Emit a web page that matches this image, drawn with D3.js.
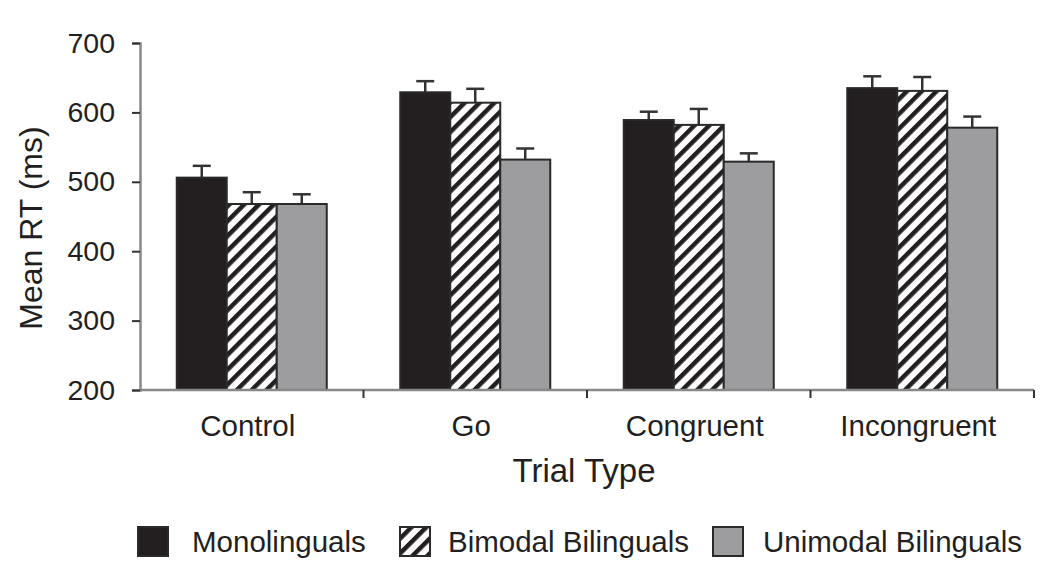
<!DOCTYPE html>
<html><head><meta charset="utf-8">
<script src="https://cdn.jsdelivr.net/npm/d3@7"></script>
<style>body{margin:0;background:#fff}svg{display:block}text{font-family:"Liberation Sans",Arial,sans-serif;fill:#231f20}</style>
</head><body><svg id="c" width="1050" height="576"></svg>
<script>
const categories = ["Control","Go","Congruent","Incongruent"];
const seriesNames = ["Monolinguals","Bimodal Bilinguals","Unimodal Bilinguals"];
const monolinguals = [506, 629, 589, 635];
const bimodal = [468, 614, 582, 631];
const unimodal = [468, 532, 529, 578];
const monoErr = [17, 16, 12, 17];
const bimodalErr = [17, 20, 23, 20];
const unimodalErr = [14, 16, 12, 16];
const yTicks = [200,300,400,500,600,700];

const values = [monolinguals, bimodal, unimodal];
const errs = [monoErr, bimodalErr, unimodalErr];
const fills = ["#231f20", "url(#hatch)", "#9d9d9f"];

const svg = d3.select("#c");
const defs = svg.append("defs");
const P = 10.5;
const pat = defs.append("pattern").attr("id","hatch").attr("patternUnits","userSpaceOnUse")
  .attr("width",P).attr("height",P).attr("patternTransform","rotate(45)");
pat.append("rect").attr("width",P).attr("height",P).attr("fill","#fff");
pat.append("rect").attr("x",0).attr("y",0).attr("width",4.5).attr("height",P).attr("fill","#231f20");

const x0 = d3.scaleBand().domain(categories).range([140,1034]).paddingInner(0).paddingOuter(0);
const x1 = d3.scaleBand().domain(d3.range(3)).range([0,150]);
const off = (x0.bandwidth()-150)/2;
const y = d3.scaleLinear().domain([200,700]).range([390,43]);

// bars
categories.forEach((c,ci)=>{
  values.forEach((vals,si)=>{
    const bx = x0(c)+off+x1(si);
    const w = x1.bandwidth();
    const v = vals[ci], e = errs[si][ci];
    const cx = bx + w/2;
    svg.append("line").attr("x1",cx).attr("x2",cx).attr("y1",y(v)).attr("y2",y(v+e)).attr("stroke","#333").attr("stroke-width",2.5);
    svg.append("line").attr("x1",cx-9).attr("x2",cx+9).attr("y1",y(v+e)).attr("y2",y(v+e)).attr("stroke","#333").attr("stroke-width",2.5);
    svg.append("rect").attr("x",bx).attr("y",y(v)).attr("width",w).attr("height",y(200)-y(v))
      .attr("fill",fills[si]).attr("stroke","#2a2a2a").attr("stroke-width",2);
  });
});

// y axis
const yAxis = d3.axisLeft(y).tickValues(yTicks).tickSize(8).tickPadding(17).tickFormat(d3.format("d"));
const gy = svg.append("g").attr("transform","translate(140,0)").call(yAxis);
gy.select(".domain").attr("stroke","#888").attr("stroke-width",2.5);
gy.selectAll(".tick line").attr("stroke","#333").attr("stroke-width",2);
gy.selectAll(".tick text").style("font-size","28.5px").attr("fill","#231f20").style("font-family","Liberation Sans, Arial, sans-serif");

// x axis
const gx = svg.append("g").attr("transform","translate(0,390)");
gx.append("line").attr("x1",140).attr("x2",1034).attr("y1",0).attr("y2",0).attr("stroke","#888").attr("stroke-width",2.5);
const bounds = categories.map(c=>x0(c)).concat([x0.range()[1]]).slice(1);
gx.selectAll("line.t").data(bounds).enter().append("line").attr("class","t")
  .attr("x1",d=>d).attr("x2",d=>d).attr("y1",0).attr("y2",8).attr("stroke","#333").attr("stroke-width",2);
gx.selectAll("text").data(categories).enter().append("text")
  .attr("x",d=>x0(d)+x0.bandwidth()/2-4).attr("y",46).attr("text-anchor","middle")
  .style("font-size","29.5px").text(d=>d);

// axis titles
svg.append("text").attr("x",584).attr("y",482).attr("text-anchor","middle").style("font-size","33px").text("Trial Type");
svg.append("text").attr("transform","translate(42,228) rotate(-90)").attr("text-anchor","middle").style("font-size","32px").text("Mean RT (ms)");

// legend
const legX = [138, 400, 713];
const legTextX = [192, 448, 763];
const lg = svg.append("g");
seriesNames.forEach((n,i)=>{
  lg.append("rect").attr("x",legX[i]).attr("y",527).attr("width",30).attr("height",29)
    .attr("fill",fills[i]).attr("stroke","#2a2a2a").attr("stroke-width",2);
  lg.append("text").attr("x",legTextX[i]).attr("y",552).style("font-size","29.5px").text(n);
});
</script></body></html>
